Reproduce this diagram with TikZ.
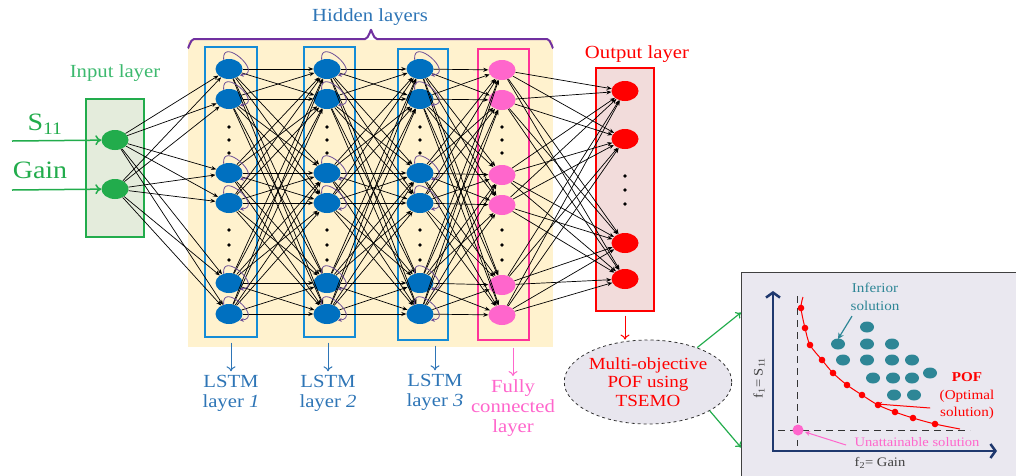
\documentclass[tikz,border=0pt]{standalone}
\usepackage{fontspec}
\setmainfont{Liberation Serif}[FakeStretch=1.12]
\usetikzlibrary{arrows.meta,shapes.geometric}

\definecolor{ingreen}{RGB}{34,172,76}
\definecolor{inlabel}{RGB}{60,185,110}
\definecolor{inboxfill}{RGB}{228,236,220}
\definecolor{lstmblue}{RGB}{0,112,192}
\definecolor{lstmline}{RGB}{20,140,215}
\definecolor{lstmtext}{RGB}{46,117,182}
\definecolor{fcpink}{RGB}{255,102,204}
\definecolor{fcline}{RGB}{255,51,153}
\definecolor{hidfill}{RGB}{255,242,206}
\definecolor{bracepurple}{RGB}{112,48,160}
\definecolor{loopcol}{RGB}{110,80,150}
\definecolor{outfill}{RGB}{242,220,219}
\definecolor{pofgray}{RGB}{232,230,238}
\definecolor{plotfill}{RGB}{234,232,240}
\definecolor{axisnavy}{RGB}{31,56,110}
\definecolor{dotteal}{RGB}{46,134,150}

\begin{document}
\begin{tikzpicture}[x=1pt,y=-1pt,
  neuron/.style={ellipse, minimum width=27, minimum height=20, inner sep=0},
  wire/.style={-{Stealth[length=5pt,width=4pt]}, line width=0.7pt},
  selfloop/.style={-{Stealth[length=4pt,width=4pt]}, draw=loopcol, line width=0.8pt},
  lstmbox/.style={draw=lstmline, line width=1.4pt, minimum height=290},
  labtext/.style={font=\fontsize{18.5}{20}\selectfont, align=center},
  downarrow/.style={-{To[length=5pt,width=9pt]}, line width=1pt},
  plottext/.style={font=\fontsize{13.5}{17.5}\selectfont, align=center}]
\useasboundingbox (0,0) rectangle (1016,475);

% hidden layers background and brace
\fill[hidfill] (188,40) rectangle (553,347);
\draw[bracepurple, line width=2pt] (188,47) to[out=-90,in=180] (194,39) -- (365,39)
  to[out=0,in=90] (371,31) to[out=90,in=180] (377,39) -- (547,39) to[out=0,in=-90] (553,47);
\node[text=lstmtext, font=\fontsize{18.5}{20}\selectfont] (hidlab) at (370,17) {Hidden layers};

% layer boxes
\node[draw=ingreen, fill=inboxfill, line width=1.2pt, minimum width=58, minimum height=138] (inbox) at (115,168){};
\node[text=inlabel, font=\fontsize{18.5}{20}\selectfont] (inlab) at (115,73) {Input layer};
\node[lstmbox, minimum width=52] (box1) at (231,192){};
\node[lstmbox, minimum width=51] (box2) at (329.5,192){};
\node[lstmbox, minimum width=50, minimum height=291] (box3) at (423,194.5){};
\node[draw=fcline, line width=1.4pt, minimum width=51, minimum height=291] (box4) at (503.5,194.5){};
\node[draw=red, fill=outfill, line width=1.2pt, minimum width=58, minimum height=243] (obox) at (625,189.5){};
\node[text=red, font=\fontsize{18.5}{20}\selectfont] (outlab) at (637,54) {Output layer};

% input
\node[neuron, fill=ingreen] (in1) at (115,140){};
\node[neuron, fill=ingreen] (in2) at (115,189){};
\node[text=ingreen, font=\fontsize{25}{28}\selectfont] (s11) at (45,124) {S\textsubscript{11}};
\node[text=ingreen, font=\fontsize{25}{28}\selectfont] (gain) at (40,170) {Gain};
\coordinate (s11src) at (12,141);
\coordinate (gainsrc) at (12,190);
\draw[ingreen, line width=1.5pt, -{To[length=6pt,width=10pt]}] (s11src) -- (in1);
\draw[ingreen, line width=1.5pt, -{To[length=6pt,width=10pt]}] (gainsrc) -- (in2);

% LSTM layer 1
\node[neuron, fill=lstmblue] (h11) at (229,69){};
\node[neuron, fill=lstmblue] (h12) at (229,99){};
\node[neuron, fill=lstmblue] (h13) at (229,173){};
\node[neuron, fill=lstmblue] (h14) at (229,203){};
\node[neuron, fill=lstmblue] (h15) at (229,283){};
\node[neuron, fill=lstmblue] (h16) at (229,314){};
% LSTM layer 2
\node[neuron, fill=lstmblue] (h21) at (327,69){};
\node[neuron, fill=lstmblue] (h22) at (327,99){};
\node[neuron, fill=lstmblue] (h23) at (327,173){};
\node[neuron, fill=lstmblue] (h24) at (327,203){};
\node[neuron, fill=lstmblue] (h25) at (327,283){};
\node[neuron, fill=lstmblue] (h26) at (327,314){};
% LSTM layer 3
\node[neuron, fill=lstmblue] (h31) at (420,69){};
\node[neuron, fill=lstmblue] (h32) at (420,99){};
\node[neuron, fill=lstmblue] (h33) at (420,173){};
\node[neuron, fill=lstmblue] (h34) at (420,203){};
\node[neuron, fill=lstmblue] (h35) at (420,283){};
\node[neuron, fill=lstmblue] (h36) at (420,314){};
% fully connected
\node[neuron, fill=fcpink] (fc1) at (502,70){};
\node[neuron, fill=fcpink] (fc2) at (502,100){};
\node[neuron, fill=fcpink] (fc3) at (502,175){};
\node[neuron, fill=fcpink] (fc4) at (502,205){};
\node[neuron, fill=fcpink] (fc5) at (502,285){};
\node[neuron, fill=fcpink] (fc6) at (502,315){};
% output
\node[neuron, fill=red] (out1) at (625,91){};
\node[neuron, fill=red] (out2) at (625,139){};
\node[neuron, fill=red] (out3) at (625,243){};
\node[neuron, fill=red] (out4) at (625,279){};

\foreach \x in {229,327,420,502}
  \foreach \y in {127,140,153,230,245,260}
    \fill (\x,\y) circle (1.8pt);
\foreach \y in {176,190,204}
  \fill (625,\y) circle (1.8pt);

% connections
\foreach \i in {1,2}
  \foreach \j in {1,...,6}
    \draw[wire] (in\i) -- (h1\j);
\foreach \src/\dst in {1/2,2/3}
  \foreach \i in {1,...,6}
    \foreach \j in {1,...,6}
      \draw[wire] (h\src\i) -- (h\dst\j);
\foreach \i in {1,...,6}
  \foreach \j in {1,...,6}
    \draw[wire] (h3\i) -- (fc\j);
\foreach \i in {1,...,6}
  \foreach \j in {1,...,4}
    \draw[wire] (fc\i) -- (out\j);
\foreach \n in {1,2,3}
  \foreach \i in {1,...,6}
    \draw[selfloop] (h\n\i.120) .. controls +(95:24pt) and +(5:24pt) .. (h\n\i.-30);

% layer captions
\node[labtext, text=lstmtext] (lab1) at (231,393) {LSTM\\layer \textit{1}};
\node[labtext, text=lstmtext] (lab2) at (328,393) {LSTM\\layer \textit{2}};
\node[labtext, text=lstmtext] (lab3) at (435,392) {LSTM\\layer \textit{3}};
\node[labtext, text=fcpink] (lab4) at (513,408) {Fully\\connected\\layer};
\draw[downarrow, lstmtext] ([yshift=-5pt]box1.south -| lab1) -- (lab1.north);
\draw[downarrow, lstmtext] ([yshift=-5pt]box2.south -| lab2) -- (lab2.north);
\draw[downarrow, lstmtext] ([yshift=-5pt]box3.south -| lab3) -- (lab3.north);
\draw[downarrow, fcpink] ([yshift=-7pt]box4.south -| lab4) -- (lab4.north);

% optimiser
\node[ellipse, draw=black!80, dashed, fill=pofgray, line width=0.8pt, minimum width=156, minimum height=84,
  inner sep=0, text=red, font=\fontsize{17}{18.5}\selectfont, align=center] (pof) at (648,382)
  {Multi-objective\\POF using\\TSEMO};
\draw[downarrow, red] ([yshift=-4pt]obox.south) -- (obox.south |- pof.north);
\node[draw=black!75, fill=plotfill, line width=1pt, minimum width=275, minimum height=204, anchor=north west] (plotbox) at (741,272){};
\draw[ingreen, line width=1.2pt, -{To[length=5pt,width=8pt]}] (pof.35) -- ([yshift=62pt]plotbox.west);
\draw[ingreen, line width=1.2pt, -{To[length=5pt,width=8pt]}] (pof.-25) -- ([yshift=-73pt]plotbox.west);

% objective space
\draw[axisnavy, line width=2.5pt, {Straight Barb[length=5pt,width=14pt]}-{Straight Barb[length=5pt,width=14pt]}]
  (773,291) -- (773,451) -- (997,451);
\draw[black!80, line width=0.8pt, dash pattern=on 7pt off 5pt] (797,296) -- (797,446);
\draw[black!80, line width=0.8pt, dash pattern=on 7pt off 5pt] (778,430) -- (970,430);
\draw[red, line width=1pt] plot[smooth] coordinates {(803,297) (801,308) (805,328) (810,345) (822,360)
  (833,373) (847,385) (862,395) (878,405) (895,412) (913,418) (935,424) (960,429)};
\foreach \p in {(801,308),(805,328),(810,345),(822,360),(833,373),(847,385),(862,395),(878,405),(895,412),(913,418),(935,424)}
  \fill[red] \p circle (3.3pt);
\foreach \p in {(867,327),(838,344),(867,344),(892,344),(843,360),(867,360),(892,360),(912,360),
  (930,373),(873,378),(893,378),(912,378),(894,395),(914,395)}
  \fill[dotteal] \p ellipse [x radius=7pt, y radius=5.5pt];
\fill[fcpink] (798,430) circle (5.5pt);

\node[plottext, text=dotteal] (inflab) at (875,297) {Inferior\\solution};
\coordinate (infpt) at (838,339);
\draw[dotteal, line width=1.2pt, -{Stealth[length=6pt,width=6pt]}] ([xshift=-23pt,yshift=-2pt]inflab.south) -- (infpt);
\node[plottext, text=red] (poflab) at (967,396) {\textbf{POF}\\(Optimal\\solution)};
\coordinate (pofpt) at (877,404);
\draw[red, line width=1pt, -{Stealth[length=5pt,width=5pt]}] ([xshift=-6pt,yshift=-12pt]poflab.west) -- (pofpt);
\node[plottext, text=fcpink, font=\fontsize{13}{15}\selectfont] (unlab) at (917,442) {Unattainable solution};
\coordinate (unpt) at (805,432);
\draw[fcpink, line width=1pt, -{Stealth[length=5pt,width=5pt]}] ([xshift=-5pt,yshift=-3pt]unlab.west) -- (unpt);
\node[plottext, text=black!75, font=\fontsize{13}{15}\selectfont, rotate=90] (f1lab) at (759,378) {f\textsubscript{1}= S\textsubscript{11}};
\node[plottext, text=black!75, font=\fontsize{13}{15}\selectfont] (f2lab) at (880,463) {f\textsubscript{2}= Gain};
\end{tikzpicture}
\end{document}
